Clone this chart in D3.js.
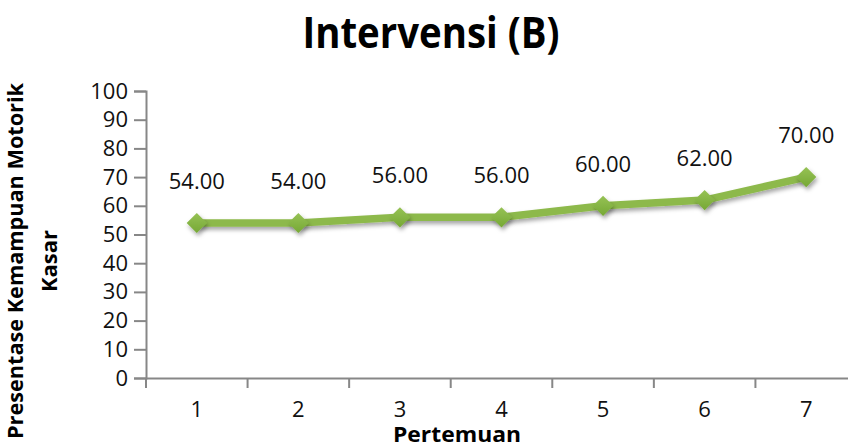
<!DOCTYPE html>
<html>
<head>
<meta charset="utf-8">
<script src="https://cdn.jsdelivr.net/npm/d3@7"></script>
<style>
  html, body { margin: 0; padding: 0; background: #fff; }
  svg { display: block; }
  text { font-family: "Open Sans", "Noto Sans", sans-serif; }
</style>
</head>
<body>
<svg id="chart" width="848" height="446"></svg>
<script>
// Chart data
const categories = ["1", "2", "3", "4", "5", "6", "7"];
const values = [54, 54, 56, 56, 60, 62, 70];
const yTicks = [0, 10, 20, 30, 40, 50, 60, 70, 80, 90, 100];

const svg = d3.select("#chart");
const plotLeft = 146, plotRight = 857, plotTop = 91, plotBottom = 378;

const x = d3.scaleBand().domain(categories).range([plotLeft, plotRight]);
const y = d3.scaleLinear().domain([0, 100]).range([plotBottom, plotTop]);

const axisColor = "#878787";
const labelColor = "#111";

// Title
svg.append("text")
  .attr("x", 431).attr("y", 48)
  .attr("text-anchor", "middle")
  .attr("font-size", 43).attr("font-weight", 700)
  .attr("fill", "#000")
  .attr("textLength", 257).attr("lengthAdjust", "spacingAndGlyphs")
  .text("Intervensi (B)");

// Y axis
const yAxis = svg.append("g")
  .attr("transform", `translate(${plotLeft},0)`)
  .call(d3.axisLeft(y).tickValues(yTicks).tickSize(12).tickPadding(6));
yAxis.select(".domain").attr("stroke", axisColor).attr("stroke-width", 2);
yAxis.selectAll(".tick line").attr("stroke", axisColor).attr("stroke-width", 2);
yAxis.selectAll(".tick text").attr("font-size", 22).attr("fill", labelColor)
  .attr("font-family", "'Open Sans', sans-serif");

// X axis
const xAxis = svg.append("g")
  .attr("transform", `translate(0,${plotBottom})`)
  .call(d3.axisBottom(x).tickSize(0));
xAxis.select(".domain").attr("stroke", axisColor).attr("stroke-width", 2);
xAxis.selectAll(".tick text")
  .attr("y", 39).attr("dy", 0)
  .attr("font-size", 22).attr("fill", labelColor)
  .attr("font-family", "'Open Sans', sans-serif");
// Category boundary ticks below the axis
const bounds = categories.map(c => x(c));
svg.append("g").selectAll("line").data(bounds).join("line")
  .attr("x1", d => d).attr("x2", d => d)
  .attr("y1", plotBottom).attr("y2", plotBottom + 10)
  .attr("stroke", axisColor).attr("stroke-width", 2);

// Axis titles
svg.append("text")
  .attr("x", 457).attr("y", 442)
  .attr("text-anchor", "middle")
  .attr("font-size", 21).attr("font-weight", 700)
  .attr("fill", "#000")
  .attr("textLength", 128).attr("lengthAdjust", "spacingAndGlyphs")
  .text("Pertemuan");

const yTitle = svg.append("text")
  .attr("transform", "translate(0,261) rotate(-90)")
  .attr("text-anchor", "middle")
  .attr("font-size", 22).attr("font-weight", 700)
  .attr("fill", "#000");
yTitle.append("tspan").attr("x", 0).attr("y", 23)
  .attr("textLength", 356).attr("lengthAdjust", "spacingAndGlyphs")
  .text("Presentase Kemampuan Motorik");
yTitle.append("tspan").attr("x", 0).attr("y", 57).text("Kasar");

// Shadow filter for line and markers
const defs = svg.append("defs");
const f = defs.append("filter").attr("id", "shadow")
  .attr("x", "-50%").attr("y", "-50%").attr("width", "200%").attr("height", "200%");
f.append("feDropShadow").attr("dx", 1.5).attr("dy", 3).attr("stdDeviation", 2)
  .attr("flood-color", "#000").attr("flood-opacity", 0.35);

// Subtle top-lit gradient for the diamonds
const g = defs.append("linearGradient").attr("id", "markerFill")
  .attr("x1", 0).attr("y1", 0).attr("x2", 0).attr("y2", 1);
g.append("stop").attr("offset", "0%").attr("stop-color", "#96C255");
g.append("stop").attr("offset", "100%").attr("stop-color", "#76A835");

const cx = d => x(d) + x.bandwidth() / 2;

// Line
const line = d3.line().x((d, i) => cx(categories[i])).y(d => y(d));
svg.append("path")
  .datum(values)
  .attr("d", line)
  .attr("fill", "none")
  .attr("stroke", "#8DB94B")
  .attr("stroke-width", 7.5)
  .attr("stroke-linejoin", "round")
  .attr("filter", "url(#shadow)");

// Diamond markers
const sym = d3.symbol().type(d3.symbolDiamond2).size(260);
svg.append("g").selectAll("path").data(values).join("path")
  .attr("transform", (d, i) => `translate(${cx(categories[i])},${y(d)})`)
  .attr("d", sym)
  .attr("fill", "url(#markerFill)")
  .attr("filter", "url(#shadow)");

// Value labels
svg.append("g").selectAll("text").data(values).join("text")
  .attr("x", (d, i) => cx(categories[i]))
  .attr("y", d => y(d) - 34)
  .attr("text-anchor", "middle")
  .attr("font-size", 22)
  .attr("fill", labelColor)
  .text(d => d.toFixed(2));
</script>
</body>
</html>
